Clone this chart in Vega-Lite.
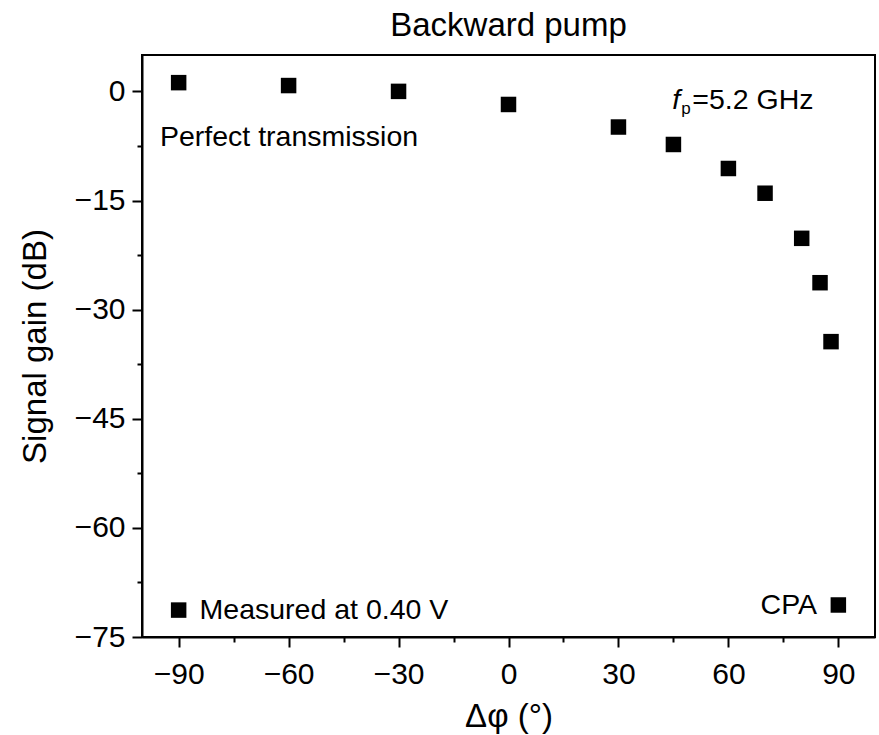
{
  "$schema": "https://vega.github.io/schema/vega-lite/v6.json",
  "width": 733,
  "height": 582,
  "autosize": {"type": "none"},
  "padding": {"left": 142, "top": 55, "right": 4, "bottom": 98},
  "background": "white",
  "title": {"text": "Backward pump", "fontSize": 33, "fontWeight": "normal", "font": "Liberation Sans", "color": "black", "offset": 12, "anchor": "middle"},
  "config": {
    "view": {"stroke": "black", "strokeWidth": 2},
    "font": "Liberation Sans",
    "axis": {"grid": false, "domainColor": "black", "domainWidth": 2, "tickColor": "black", "tickWidth": 2, "labelColor": "black", "titleColor": "black", "labelFontSize": 30, "titleFontSize": 33, "titleFontWeight": "normal", "labelFont": "Liberation Sans", "titleFont": "Liberation Sans"}
  },
  "layer": [
    {
      "data": {"values": [
        {"phi": -90, "gain": 1.2},
        {"phi": -60, "gain": 0.8},
        {"phi": -30, "gain": 0.0},
        {"phi": 0, "gain": -1.8},
        {"phi": 30, "gain": -4.9},
        {"phi": 45, "gain": -7.3},
        {"phi": 60, "gain": -10.6},
        {"phi": 70, "gain": -14.0},
        {"phi": 80, "gain": -20.2},
        {"phi": 85, "gain": -26.3},
        {"phi": 88, "gain": -34.4},
        {"phi": 90, "gain": -70.6}
      ]},
      "mark": {"type": "point", "shape": "square", "filled": true, "fill": "black", "strokeWidth": 0, "size": 240, "opacity": 1},
      "encoding": {
        "x": {"field": "phi", "type": "quantitative", "scale": {"domain": [-100, 100], "nice": false, "zero": false},
          "axis": {"title": "Δφ (°)", "values": [-90, -75, -60, -45, -30, -15, 0, 15, 30, 45, 60, 75, 90],
            "labelExpr": "datum.value % 30 === 0 ? datum.label : ''",
            "tickSize": {"condition": {"test": "datum.value % 30 === 0", "value": 10}, "value": 5},
            "labelPadding": 12, "titleY": 89, "titleBaseline": "alphabetic", "labelFlush": false}},
        "y": {"field": "gain", "type": "quantitative", "scale": {"domain": [-75, 5], "nice": false, "zero": false},
          "axis": {"title": "Signal gain (dB)", "values": [-75, -67.5, -60, -52.5, -45, -37.5, -30, -22.5, -15, -7.5, 0],
            "labelExpr": "datum.value % 15 === 0 ? datum.label : ''",
            "tickSize": {"condition": {"test": "datum.value % 15 === 0", "value": 10}, "value": 5},
            "labelPadding": 7, "titleX": -97, "titleBaseline": "alphabetic", "labelFlush": false}}
      }
    },
    {
      "data": {"values": [{"label": "Measured at 0.40 V"}]},
      "mark": {"type": "point", "shape": "square", "filled": true, "fill": "black", "strokeWidth": 0, "size": 240, "opacity": 1},
      "encoding": {"x": {"datum": -90, "type": "quantitative"}, "y": {"datum": -71.3, "type": "quantitative"}}
    },
    {
      "data": {"values": [{"label": "Measured at 0.40 V"}]},
      "mark": {"type": "text", "fontSize": 28.5, "align": "left", "baseline": "middle", "fill": "black"},
      "encoding": {"text": {"field": "label"}, "x": {"datum": -84.3, "type": "quantitative"}, "y": {"datum": -71.3, "type": "quantitative"}}
    },
    {
      "data": {"values": [{"label": "CPA"}]},
      "mark": {"type": "text", "fontSize": 28.5, "align": "right", "baseline": "middle", "fill": "black"},
      "encoding": {"text": {"field": "label"}, "x": {"datum": 84.2, "type": "quantitative"}, "y": {"datum": -70.6, "type": "quantitative"}}
    },
    {
      "data": {"values": [{"label": "Perfect transmission"}]},
      "mark": {"type": "text", "fontSize": 28.5, "align": "left", "baseline": "middle", "fill": "black"},
      "encoding": {"text": {"field": "label"}, "x": {"datum": -95.1, "type": "quantitative"}, "y": {"datum": -6.3, "type": "quantitative"}}
    },
    {
      "data": {"values": [{"label": "f"}]},
      "mark": {"type": "text", "fontSize": 28.5, "fontStyle": "italic", "align": "left", "baseline": "middle", "fill": "black"},
      "encoding": {"text": {"field": "label"}, "x": {"datum": 44.7, "type": "quantitative"}, "y": {"datum": -1.2, "type": "quantitative"}}
    },
    {
      "data": {"values": [{"label": "p"}]},
      "mark": {"type": "text", "fontSize": 17, "align": "left", "baseline": "middle", "fill": "black", "dx": 9, "dy": 9},
      "encoding": {"text": {"field": "label"}, "x": {"datum": 44.7, "type": "quantitative"}, "y": {"datum": -1.2, "type": "quantitative"}}
    },
    {
      "data": {"values": [{"label": "=5.2 GHz"}]},
      "mark": {"type": "text", "fontSize": 28.5, "align": "left", "baseline": "middle", "fill": "black", "dx": 20},
      "encoding": {"text": {"field": "label"}, "x": {"datum": 44.7, "type": "quantitative"}, "y": {"datum": -1.2, "type": "quantitative"}}
    }
  ]
}
